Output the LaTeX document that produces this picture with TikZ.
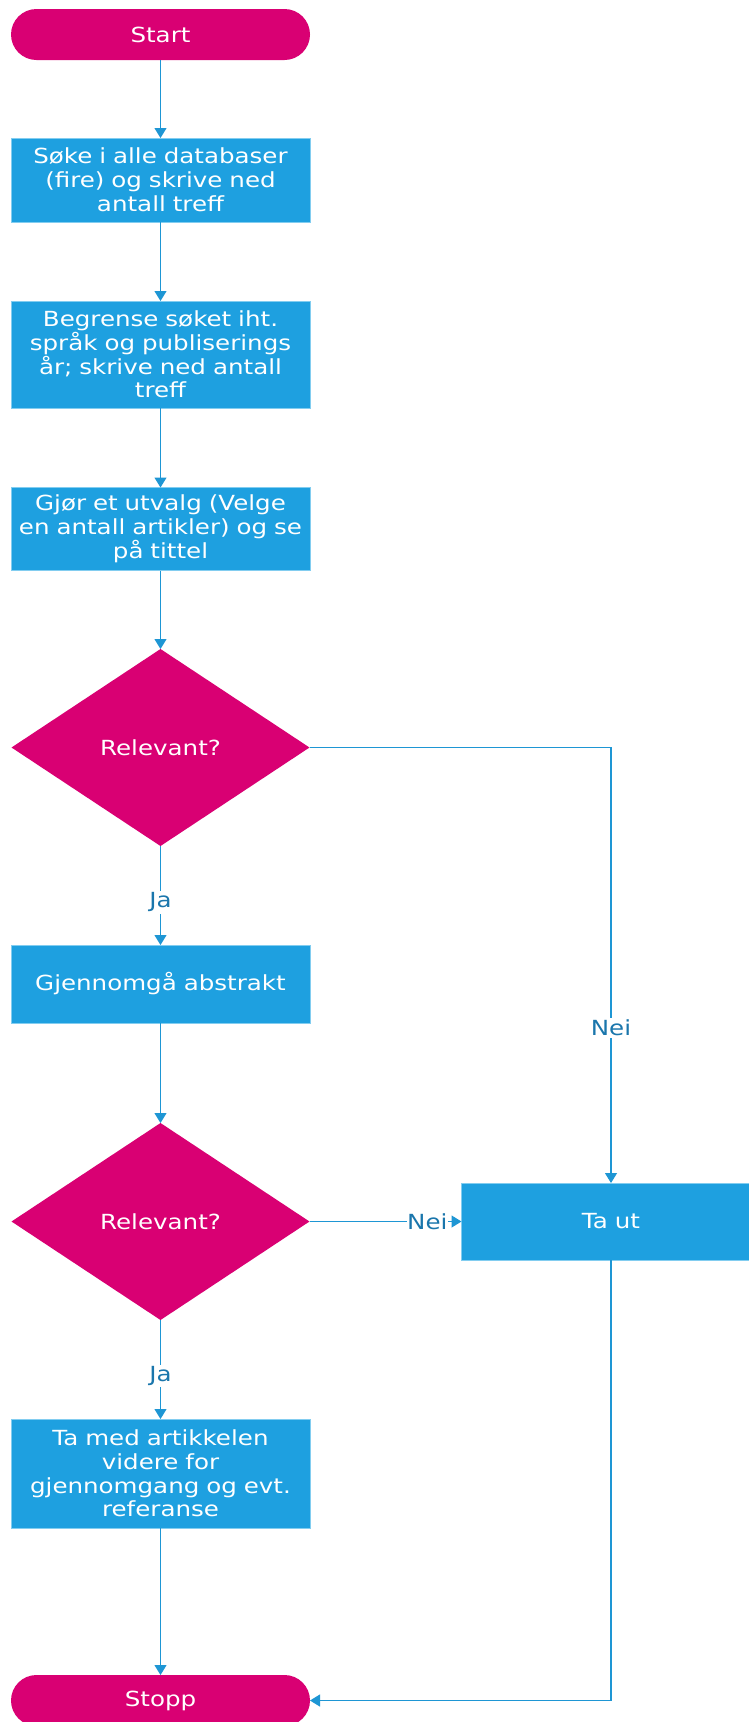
\documentclass[tikz,border=0pt]{standalone}
\usepackage{fontspec}
\setmainfont{DejaVu Sans}[FakeStretch=1.18]
\usetikzlibrary{shapes.geometric,arrows.meta}

\definecolor{brandmagenta}{RGB}{217,0,115}
\definecolor{boxblue}{RGB}{30,160,224}
\definecolor{edgeblue}{RGB}{130,205,240}
\definecolor{lineblue}{RGB}{30,150,212}
\definecolor{labelblue}{RGB}{26,118,172}

\tikzset{
  txt/.style={font=\fontsize{20.8}{23.8}\selectfont, text=white, align=center},
  terminal/.style={txt, fill=brandmagenta, rounded corners=25.5pt,
    minimum width=299pt, minimum height=51pt, inner sep=0pt, outer sep=0pt},
  stepbox/.style={txt, fill=boxblue, draw=edgeblue, line width=0.8pt,
    minimum width=299pt, inner sep=0pt, outer sep=0pt, text width=296pt},
  decision/.style={txt, diamond, fill=brandmagenta, minimum width=298pt,
    minimum height=197pt, inner sep=0pt, outer sep=0pt},
  flow/.style={draw=lineblue, line width=1.1pt,
    -{Triangle[length=10pt,width=12pt]}},
  answer/.style={font=\fontsize{20.8}{23.8}\selectfont, text=labelblue,
    fill=white, inner sep=1.5pt}
}

\begin{document}
\begin{tikzpicture}[x=1pt,y=-1pt]
  \clip (0,0) rectangle (749,1722);
  \fill[white] (0,0) rectangle (749,1722);

  % main column
  \node[terminal] (start) at (160.5,34.5) {Start};
  \node[stepbox, minimum height=84pt] (search) at (160.5,180)
    {Søke i alle databaser\\(fire) og skrive ned\\antall treff};
  \node[stepbox, minimum height=107pt] (limit) at (160.5,354.5)
    {Begrense søket iht.\\språk og publiserings\\år; skrive ned antall\\treff};
  \node[stepbox, minimum height=83pt] (select) at (160.5,529)
    {Gjør et utvalg (Velge\\en antall artikler) og se\\på tittel};
  \node[decision] (rel1) at (160.5,747.5) {Relevant?};
  \node[stepbox, minimum height=78pt] (abstract) at (160.5,984)
    {Gjennomgå abstrakt};
  \node[decision] (rel2) at (160.5,1221.5) {Relevant?};
  \node[stepbox, minimum height=109pt] (keep) at (160.5,1473.5)
    {Ta med artikkelen\\videre for\\gjennomgang og evt.\\referanse};
  \node[terminal] (stop) at (160.5,1700.5) {Stopp};

  % rejection branch
  \node[stepbox, minimum height=77pt] (remove) at (611,1221.5) {Ta ut};

  % connectors
  \draw[flow] (start) -- (search);
  \draw[flow] (search) -- (limit);
  \draw[flow] (limit) -- (select);
  \draw[flow] (select) -- (rel1.north);
  \draw[flow] (rel1.south) -- node[answer, pos=0.57] {Ja} (abstract);
  \draw[flow] (abstract) -- (rel2.north);
  \draw[flow] (rel2.south) -- node[answer, pos=0.565] {Ja} (keep);
  \draw[flow] (keep) -- (stop);
  \draw[flow] (rel1.east) -| node[answer, pos=0.822] {Nei} (remove.north);
  \draw[flow] (rel2.east) -- node[answer, pos=0.775, inner sep=0.5pt] {Nei} (remove.west);
  \draw[flow] (remove.south) |- (stop.east);
\end{tikzpicture}
\end{document}
